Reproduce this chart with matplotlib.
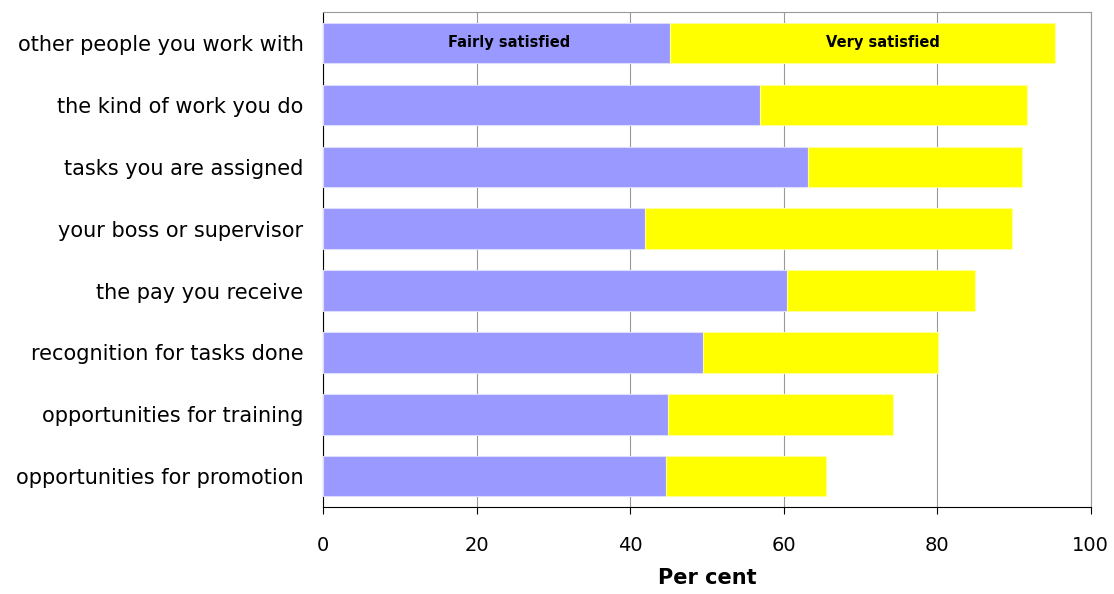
import numpy as np
import matplotlib.pyplot as plt

categories = ['other people you work with', 'the kind of work you do', 'tasks you are assigned',
              'your boss or supervisor', 'the pay you receive', 'recognition for tasks done',
              'opportunities for training', 'opportunities for promotion']
fairly = [45.2, 56.9, 63.2, 41.9, 60.5, 49.5, 44.9, 44.7]
very = [50.2, 34.8, 27.9, 47.9, 24.5, 30.6, 29.4, 20.8]

plt.rcParams['font.family'] = ['DejaVu Sans']

fig = plt.figure(figsize=(11.14, 5.94), dpi=100)
ax = fig.add_axes([0.29, 0.146, 0.689, 0.834])

y = np.arange(len(categories))
ax.barh(y, fairly, height=0.65, color='#9999FF', edgecolor='#DDDDFF', linewidth=0.8, zorder=3)
ax.barh(y, very, left=fairly, height=0.65, color='#FFFF00', edgecolor='#FFFF99', linewidth=0.8, zorder=3)

ax.text(24.2, 0, 'Fairly satisfied', ha='center', va='center', fontsize=10.5, fontweight='bold', zorder=4)
ax.text(72.9, 0, 'Very satisfied', ha='center', va='center', fontsize=10.5, fontweight='bold', zorder=4)

ax.set_xlim(0, 100)
ax.set_ylim(len(categories) - 0.5, -0.5)
ax.set_xticks([0, 20, 40, 60, 80, 100])
ax.set_yticks(y)
ax.set_yticklabels(categories, fontsize=15)
ax.tick_params(axis='x', labelsize=14, length=5, direction='out', pad=16)
ax.tick_params(axis='y', length=0, pad=14)
ax.xaxis.grid(True, color='#999999', linewidth=0.8, zorder=0)
ax.set_axisbelow(True)
ax.set_xlabel('Per cent', fontsize=15, fontweight='bold', labelpad=9)

for s in ['top', 'right']:
    ax.spines[s].set_color('#999999')
ax.spines['left'].set_color('black')
ax.spines['bottom'].set_color('black')

fig.savefig('out.png', dpi=100)
